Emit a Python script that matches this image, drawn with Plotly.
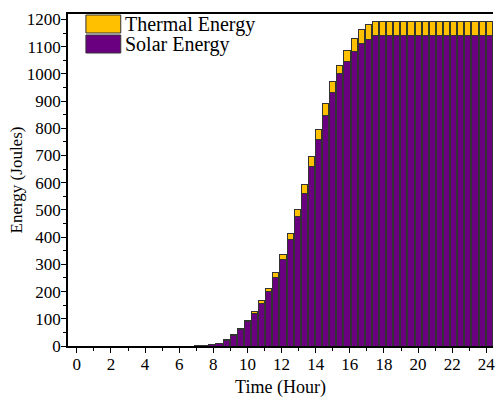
import plotly.graph_objects as go

# time of each bar (hours), 25-minute steps
time_h = [k * 25 / 60 for k in range(59)]

solar = [0]*17 + [0.5, 2.5, 6, 11, 22, 40, 62, 90, 119, 157, 199, 251, 317, 392, 475,
                  560, 660, 759, 847, 930, 1000, 1044, 1081, 1112, 1127] + [1142]*17
total = [0]*17 + [0.5, 2.5, 6, 11, 22.5, 41, 63, 93, 127, 167, 213, 269, 338, 414, 500,
                  592, 695, 796, 890, 972, 1030, 1087, 1130, 1164, 1182] + [1194]*17
thermal = [t - s for t, s in zip(total, solar)]

x_ticks = list(range(0, 25, 2))
y_ticks = list(range(0, 1201, 100))

FONT = "Times New Roman, Liberation Serif, serif"
PURPLE = "#6a0080"
GOLD = "#ffc000"

fig = go.Figure()
fig.add_trace(go.Bar(x=time_h, y=solar, name="Solar Energy",
                     marker=dict(color=PURPLE, line=dict(color="#333333", width=1)),
                     showlegend=False))
fig.add_trace(go.Bar(x=time_h, y=thermal, name="Thermal Energy",
                     marker=dict(color=GOLD, line=dict(color="#333333", width=1)),
                     showlegend=False))

W, H = 495, 402
L, R, T, B = 68, 0, 14, 56
pw, ph = W - L - R, H - T - B

def px(x):
    return (x - L) / pw

def py(y):
    return (H - B - y) / ph

# custom legend
for (y0, y1, col, label) in [(15, 33, GOLD, "Thermal Energy"), (35, 53, PURPLE, "Solar Energy")]:
    fig.add_shape(type="rect", xref="paper", yref="paper",
                  x0=px(86), x1=px(121), y0=py(y1), y1=py(y0),
                  fillcolor=col, line=dict(color="#333333", width=1))
    fig.add_annotation(xref="paper", yref="paper", x=px(123), y=py((y0 + y1) / 2),
                       text=label, showarrow=False, xanchor="left", yanchor="middle",
                       font=dict(family=FONT, size=20, color="black"))

fig.update_layout(
    barmode="stack", bargap=0.14,
    width=W, height=H,
    margin=dict(l=L, r=R, t=T, b=B, pad=0),
    paper_bgcolor="white", plot_bgcolor="white",
    font=dict(family=FONT, size=17, color="black"),
)
fig.update_xaxes(range=[-0.52, 24.39], tickvals=x_ticks, ticks="outside", ticklen=5,
                 tickwidth=1, tickcolor="black", showline=True, linecolor="black",
                 linewidth=1.5, mirror=True, showgrid=False, zeroline=False,
                 minor=dict(dtick=1, tick0=0, ticks="outside", ticklen=3, tickcolor="black"),
                 tickfont=dict(size=17), ticklabeloverflow="allow", ticklabelstandoff=-3,
                 title=dict(text="Time (Hour)", font=dict(size=18), standoff=7))
fig.update_yaxes(range=[0, 1220], tickvals=y_ticks, ticks="outside", ticklen=5,
                 tickwidth=1, tickcolor="black", showline=True, linecolor="black",
                 linewidth=1.5, showgrid=False, zeroline=False,
                 minor=dict(dtick=50, tick0=0, ticks="outside", ticklen=3, tickcolor="black"),
                 tickfont=dict(size=17), ticklabelstandoff=-3,
                 title=dict(text="Energy (Joules)", font=dict(size=17), standoff=0))

fig.write_html("out.html")
